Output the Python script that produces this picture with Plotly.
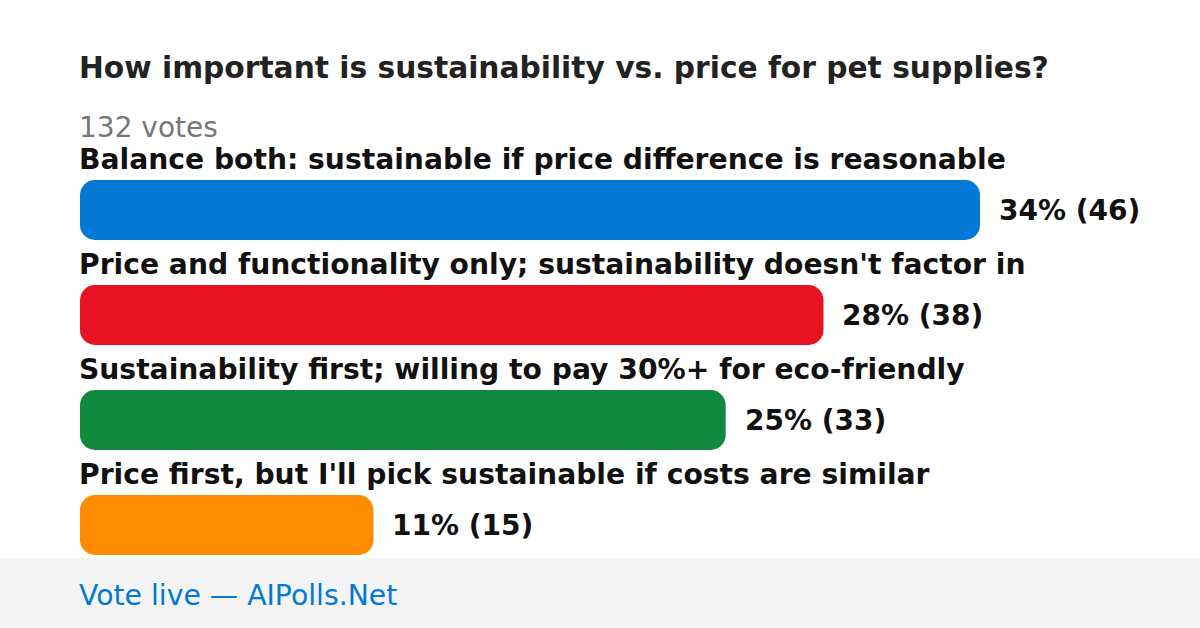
import plotly.graph_objects as go

title = "How important is sustainability vs. price for pet supplies?"
total_label = "132 votes"
options = [
    "Balance both: sustainable if price difference is reasonable",
    "Price and functionality only; sustainability doesn't factor in",
    "Sustainability first; willing to pay 30%+ for eco-friendly",
    "Price first, but I'll pick sustainable if costs are similar",
]
votes = [46, 38, 33, 15]
percents = [34, 28, 25, 11]
colors = ["#0378d4", "#e81224", "#10893e", "#ff8c00"]
footer = "Vote live — AIPolls.Net"

W, H = 1200, 628
left = 80
max_bar_px = 900
first_center = 210
step = 105
bar_px = 60
plot_w = W - left

x_max = max(votes) * plot_w / max_bar_px
idx = list(range(len(options)))
y_top = -first_center / step
y_bot = (H - first_center) / step

fig = go.Figure()
fig.add_trace(go.Bar(
    x=votes, base=[0] * len(votes), y=idx, orientation="h",
    marker=dict(color=colors, line=dict(width=0)),
    width=bar_px / step, hoverinfo="skip",
))

font = "DejaVu Sans, Verdana, sans-serif"
ann = []
for i, (o, v, p) in enumerate(zip(options, votes, percents)):
    ann.append(dict(x=0, y=i, xref="x", yref="y", xshift=-3, yshift=51, text=f"<b>{o}</b>",
                    showarrow=False, xanchor="left", yanchor="middle",
                    font=dict(family=font, size=28.2, color="#111111")))
    ann.append(dict(x=v, y=i, xref="x", yref="y", xshift=17, text=f"<b>{p}% ({v})</b>",
                    showarrow=False, xanchor="left", yanchor="middle",
                    font=dict(family=font, size=28, color="#111111")))

def px_to_paper_x(px):
    return (px - left) / plot_w

ann.append(dict(x=px_to_paper_x(80), xshift=-3, y=1 - 68 / H, xref="paper", yref="paper", text=f"<b>{title}</b>",
                showarrow=False, xanchor="left", yanchor="middle",
                font=dict(family=font, size=29.7, color="#222222")))
ann.append(dict(x=px_to_paper_x(80), xshift=-3, y=1 - 127 / H, xref="paper", yref="paper", text=total_label,
                showarrow=False, xanchor="left", yanchor="middle",
                font=dict(family=font, size=28, color="#777777")))
ann.append(dict(x=px_to_paper_x(80), xshift=-3, y=1 - 595 / H, xref="paper", yref="paper", text=footer,
                showarrow=False, xanchor="left", yanchor="middle",
                font=dict(family=font, size=28.3, color="#0378d4")))

fig.update_layout(
    width=W, height=H,
    margin=dict(l=left, r=0, t=0, b=0, pad=0),
    paper_bgcolor="white", plot_bgcolor="rgba(0,0,0,0)",
    barcornerradius=15,
    showlegend=False,
    xaxis=dict(range=[0, x_max], visible=False, fixedrange=True),
    yaxis=dict(range=[y_bot, y_top], visible=False, fixedrange=True),
    annotations=ann,
    shapes=[dict(type="rect", xref="paper", yref="paper", x0=px_to_paper_x(0), x1=1,
                 y0=0, y1=(H - 558) / H, fillcolor="#f4f4f4", line=dict(width=0), layer="below")],
)

fig.write_html("out.html", config={"displayModeBar": False},
               post_script="document.body.style.margin='0';document.body.style.overflow='hidden';")
